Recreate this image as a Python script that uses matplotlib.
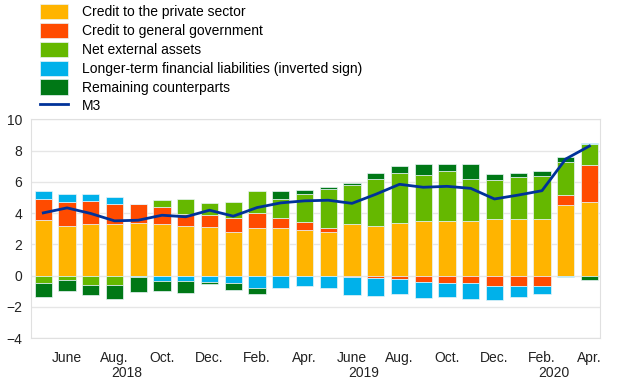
import matplotlib.pyplot as plt
import numpy as np

plt.rcParams['font.family'] = ['Liberation Sans', 'DejaVu Sans']

# monthly contributions, May 2018 - Apr 2020
months = ["May", "June", "July", "Aug.", "Sep.", "Oct.", "Nov.", "Dec.",
          "Jan.", "Feb.", "Mar.", "Apr.", "May", "June", "July", "Aug.",
          "Sep.", "Oct.", "Nov.", "Dec.", "Jan.", "Feb.", "Mar.", "Apr."]
years = ["2018", "2019", "2020"]
year_pos = [3.5, 13.5, 21.5]

private = [3.54, 3.16, 3.33, 3.33, 3.35, 3.33, 3.18, 3.12, 2.77, 3.07, 3.03, 2.94,
           2.78, 3.30, 3.19, 3.38, 3.49, 3.49, 3.49, 3.64, 3.64, 3.62, 4.51, 4.73]
government = [1.33, 1.56, 1.45, 1.28, 1.20, 1.04, 0.79, 0.74, 0.92, 0.92, 0.68, 0.50,
              0.28, -0.07, -0.16, -0.25, -0.39, -0.50, -0.50, -0.67, -0.67, -0.69, 0.64, 2.32]
external = [-0.49, -0.30, -0.62, -0.60, 0.0, 0.45, 0.90, 0.79, 1.03, 1.43, 1.22, 1.75,
            2.48, 2.49, 2.99, 3.18, 2.94, 3.22, 2.71, 2.50, 2.67, 2.77, 2.09, 1.40]
longterm = [0.51, 0.53, 0.41, 0.40, -0.09, -0.36, -0.36, -0.41, -0.47, -0.79, -0.77, -0.66,
            -0.80, -1.20, -1.15, -0.93, -1.03, -0.86, -1.03, -0.90, -0.69, -0.52, -0.10, 0.06]
remaining = [-0.90, -0.66, -0.60, -0.89, -0.96, -0.62, -0.79, -0.12, -0.43, -0.38, 0.47, 0.27,
             0.10, 0.11, 0.36, 0.43, 0.71, 0.41, 0.92, 0.36, 0.25, 0.28, 0.37, -0.27]
m3 = [4.01, 4.33, 3.97, 3.50, 3.54, 3.86, 3.76, 4.18, 3.80, 4.35, 4.65, 4.78,
      4.82, 4.62, 5.20, 5.84, 5.65, 5.71, 5.58, 4.90, 5.15, 5.43, 7.46, 8.29]

series = [
    ("Credit to the private sector", private, "#ffb400"),
    ("Credit to general government", government, "#ff4b00"),
    ("Net external assets", external, "#65b800"),
    ("Longer-term financial liabilities (inverted sign)", longterm, "#00b1ea"),
    ("Remaining counterparts", remaining, "#007816"),
]

fig = plt.figure(figsize=(6.2, 3.87), dpi=100)
ax = fig.add_axes([0.0495, 0.1266, 0.9185, 0.5651])

x = np.arange(len(months))
pos_base = np.zeros(len(x))
neg_base = np.zeros(len(x))
handles = []
for label, vals, col in series:
    v = np.array(vals)
    bottom = np.where(v >= 0, pos_base, neg_base)
    b = ax.bar(x, v, 0.73, bottom=bottom, color=col, edgecolor="#e8f4f8",
               linewidth=0.5, label=label, zorder=2)
    handles.append(b)
    pos_base += np.where(v >= 0, v, 0)
    neg_base += np.where(v < 0, v, 0)

line, = ax.plot(x, m3, color="#003299", linewidth=2, label="M3", zorder=3)
handles.append(line)

ax.set_xlim(-0.53, 23.45)
ax.set_ylim(-4, 10)
ax.set_yticks(range(-4, 11, 2))
ax.grid(axis="y", color="#e6e6e6", linewidth=1, zorder=0)
ax.set_axisbelow(True)
for s in ax.spines.values():
    s.set_color("#e0e0e0")
ax.tick_params(length=0, labelsize=10, colors="#222222")
ax.tick_params(axis="y", pad=6)

ax.set_xticks(x[1::2])
ax.set_xticklabels(months[1::2])
ax.tick_params(axis="x", pad=9)
for yl, xp in zip(years, year_pos):
    ax.text(xp, -0.128, yl, transform=ax.get_xaxis_transform(), ha="center",
            va="top", fontsize=10, color="#222222")

fig.legend(handles=handles, labels=[h.get_label() for h in handles],
           loc="upper left", bbox_to_anchor=(0.051, 1.011), frameon=False,
           fontsize=10, handlelength=2.0, handleheight=1.3, labelspacing=0.26,
           handletextpad=1.0, borderaxespad=0.2)

fig.savefig("out.png", dpi=100)
